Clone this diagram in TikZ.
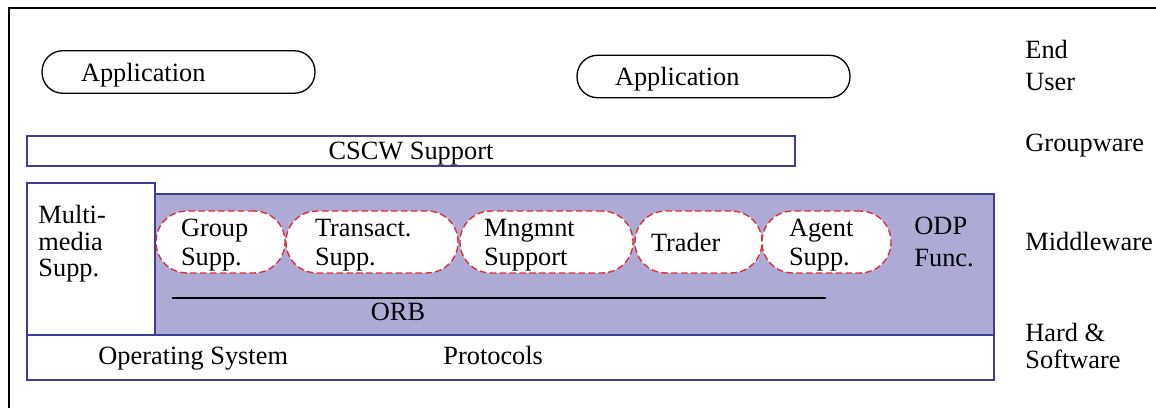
\documentclass[tikz,border=0pt]{standalone}
\usepackage{fontspec}
\setmainfont{Liberation Serif}
\definecolor{layerblue}{RGB}{62,62,152}
\definecolor{odpfill}{RGB}{173,170,213}
\definecolor{dashred}{RGB}{228,40,50}
\begin{document}
\begin{tikzpicture}[x=0.016cm, y=-0.016cm, font=\fontsize{12}{13}\selectfont,
    appbox/.style={draw=black, line width=0.6pt, rounded corners=0.33cm, minimum height=0.68cm, align=left, inner ysep=0pt, text depth=0pt},
    layerbox/.style={draw=layerblue, line width=0.7pt, inner sep=0pt},
    funcbox/.style={fill=white, draw=dashred, line width=0.6pt, dash pattern=on 3pt off 1.5pt, rounded corners=0.49cm, minimum height=0.99cm, align=left, inner ysep=0pt, font=\fontsize{12}{13.2}\selectfont},
    twoline/.style={text height=10.5pt},
    lbl/.style={inner sep=0pt, align=left}]
  \useasboundingbox (0,0) rectangle (1156,408);
  \draw[line width=0.8pt] (1156,8) -- (9,8) -- (9,408);
  \node[appbox, inner xsep=0.624cm, text width=3.12cm] (app1) at (178.5,72) {Application};
  \node[appbox, inner xsep=0.608cm, text width=3.152cm] (app2) at (713.5,76.5) {Application};
  \node[layerbox, minimum width=12.29cm, minimum height=0.48cm, text depth=0pt] (cscw) at (411,151) {CSCW Support};
  \node[layerbox, fill=odpfill, minimum width=13.424cm, minimum height=2.256cm] (odp) at (574.5,264.5) {};
  \node[layerbox, fill=white, minimum width=2.048cm, minimum height=2.432cm] (mm) at (91,259) {};
  \node[layerbox, fill=white, minimum width=15.472cm, minimum height=0.72cm] (os) at (510.5,357.5) {};
  \node[funcbox, twoline, minimum width=2.064cm, inner xsep=0.4cm, text width=1.264cm] (grp) at (220.5,242) {Group\\Supp.};
  \node[funcbox, twoline, minimum width=2.752cm, inner xsep=0.464cm, text width=1.824cm] (trans) at (372,242) {Transact.\\Supp.};
  \node[funcbox, twoline, minimum width=2.768cm, inner xsep=0.384cm, text width=2.0cm] (mgmt) at (546.5,242) {Mngmnt\\Support};
  \node[funcbox, minimum width=2.032cm, inner xsep=0.256cm, text width=1.52cm] (trader) at (698.5,242) {Trader};
  \node[funcbox, twoline, minimum width=2.064cm, inner xsep=0.432cm, text width=1.2cm] (agent) at (826.5,242) {Agent\\Supp.};
  \node[lbl, anchor=west, font=\fontsize{12}{12}\selectfont] (mmtxt) at (38,244) {Multi-\\media\\Supp.};
  \node[lbl, anchor=west, font=\fontsize{12}{14.5}\selectfont] (odptxt) at (914,242) {ODP\\Func.};
  \coordinate (orbL) at (172,298);
  \coordinate (orbR) at (826,298);
  \draw[line width=0.6pt] (orbL) -- (orbR);
  \node[lbl, anchor=base] (orb) at (398,321) {ORB};
  \node[lbl, anchor=base west] (ostxt) at (98,365) {Operating System};
  \node[lbl, anchor=base west] (proto) at (443,365) {Protocols};
  \node[lbl, anchor=west, font=\fontsize{12}{15}\selectfont] (enduser) at (1025,65.5) {End\\User};
  \node[lbl, anchor=base west] (grpw) at (1025,152) {Groupware};
  \node[lbl, anchor=base west] (midw) at (1025,250.5) {Middleware};
  \node[lbl, anchor=west, font=\fontsize{12}{12.3}\selectfont] (hardsw) at (1025,345.5) {Hard \&\\Software};
\end{tikzpicture}
\end{document}
